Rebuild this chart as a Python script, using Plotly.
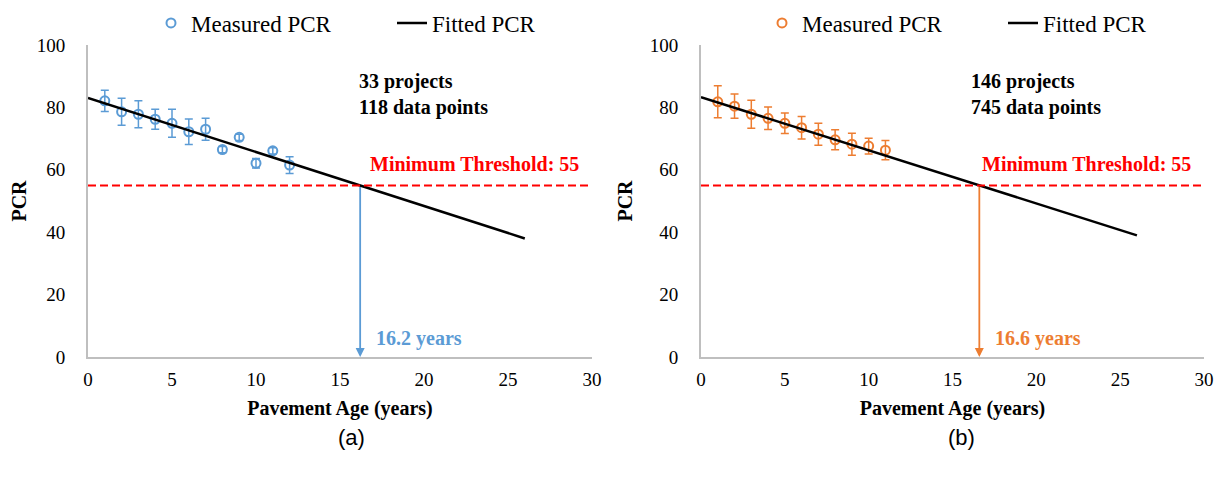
import plotly.graph_objects as go

# ---- data ----
age_a = [1, 2, 3, 4, 5, 6, 7, 8, 9, 10, 11, 12]
pcr_a = [82.1, 78.6, 77.8, 76.2, 74.9, 72.2, 73.0, 66.5, 70.4, 62.1, 66.1, 61.5]
err_a = [3.4, 4.3, 4.3, 3.2, 4.5, 4.1, 3.5, 1.0, 1.0, 1.5, 1.0, 2.7]

age_b = [1, 2, 3, 4, 5, 6, 7, 8, 9, 10, 11]
pcr_b = [81.8, 80.4, 77.8, 76.5, 74.9, 73.5, 71.4, 69.6, 68.2, 67.6, 66.3]
err_b = [5.1, 3.9, 4.5, 3.6, 3.3, 3.6, 3.5, 3.2, 3.5, 2.5, 3.1]

fit_age = [0, 26]
fit_a = [83.0, 38.0]
fit_b = [83.3, 39.0]

thr_age = [0, 30]
thr_pcr = [55, 55]
life_a = 16.2
life_b = 16.6

info_a = "33 projects<br>118 data points"
info_b = "146 projects<br>745 data points"

BLUE = "#5B9BD5"
ORANGE = "#ED7D31"
SERIF = "Liberation Serif"

OFF = 8  # default page body margin
W, H = 1222 - 2 * OFF, 482 - 2 * OFF
def px(x):
    return (x - OFF) / W
def py(y):
    return 1 - (y - OFF) / H

fig = go.Figure()

panels = [
    dict(ax="", age=age_a, pcr=pcr_a, err=err_a, fit=fit_a, life=life_a, info=info_a,
         color=BLUE, legend="legend", xd=[px(88), px(592)], label="(a)", lx=px(351), lgx=px(151)),
    dict(ax="2", age=age_b, pcr=pcr_b, err=err_b, fit=fit_b, life=life_b, info=info_b,
         color=ORANGE, legend="legend2", xd=[px(701), px(1204)], label="(b)", lx=px(962), lgx=px(762)),
]

ydom = [py(357), py(45)]
annotations = []
for p in panels:
    xa = "x" + p["ax"]
    ya = "y" + p["ax"]
    fig.add_trace(go.Scatter(
        x=p["age"], y=p["pcr"], mode="markers", name="Measured PCR",
        marker=dict(symbol="circle-open", size=9, color=p["color"], line=dict(width=2)),
        error_y=dict(type="data", array=p["err"], color=p["color"], thickness=1.5, width=4),
        xaxis=xa, yaxis=ya, legend=p["legend"]))
    fig.add_trace(go.Scatter(
        x=fit_age, y=p["fit"], mode="lines", name="Fitted PCR",
        line=dict(color="black", width=2.5),
        xaxis=xa, yaxis=ya, legend=p["legend"]))
    fig.add_trace(go.Scatter(
        x=thr_age, y=thr_pcr, mode="lines", showlegend=False,
        line=dict(color="#FF0000", width=2, dash="8px,4px"),
        xaxis=xa, yaxis=ya))
    annotations += [
        dict(x=p["life"], y=0, ax=p["life"], ay=55, xref=xa, yref=ya, axref=xa, ayref=ya,
             showarrow=True, arrowhead=2, arrowsize=1, arrowwidth=1.8, arrowcolor=p["color"], text=""),
        dict(x=16.0, y=84.0, xref=xa, yref=ya, text=p["info"], showarrow=False, xanchor="left",
             yanchor="middle", align="left",
             font=dict(family=SERIF, size=20, color="black", weight="bold")),
        dict(x=23.0, y=62.0, xref=xa, yref=ya, text="Minimum Threshold: 55", showarrow=False,
             yanchor="middle", font=dict(family=SERIF, size=20, color="#FF0000", weight="bold")),
        dict(x=p["life"] + 0.8, y=6.0, xref=xa, yref=ya, text=f"{p['life']} years", showarrow=False,
             xanchor="left", yanchor="middle",
             font=dict(family=SERIF, size=20, color=p["color"], weight="bold")),
        dict(x=p["lx"], y=py(437), xref="paper", yref="paper", text=p["label"], showarrow=False,
             xanchor="center", yanchor="middle",
             font=dict(family="Liberation Sans", size=22, color="black")),
    ]

axis_common = dict(showgrid=False, zeroline=False, showline=True, linecolor="#BFBFBF",
                   linewidth=2, ticks="", tickfont=dict(family=SERIF, size=19, color="black"),
                   automargin=False)

def legend_cfg(x):
    return dict(orientation="h", x=x, y=py(23), xanchor="left", yanchor="middle",
                font=dict(family=SERIF, size=23, color="black"), entrywidth=196,
                bgcolor="rgba(0,0,0,0)")

layout = dict(
    width=W, height=H, margin=dict(l=0, r=0, t=0, b=0, autoexpand=False),
    paper_bgcolor="white", plot_bgcolor="white",
    annotations=annotations,
    legend=legend_cfg(panels[0]["lgx"]),
    legend2=legend_cfg(panels[1]["lgx"]),
)
for p in panels:
    layout["xaxis" + p["ax"]] = dict(axis_common, domain=p["xd"], range=[0, 30], dtick=5,
                                      anchor="y" + p["ax"], ticklabelstandoff=4,
                                      title=dict(text="<b>Pavement Age (years)</b>", standoff=12,
                                                 font=dict(family=SERIF, size=20, color="black")))
    layout["yaxis" + p["ax"]] = dict(axis_common, domain=ydom, range=[0, 100], dtick=20,
                                      anchor="x" + p["ax"], ticklabelstandoff=17,
                                      title=dict(text="<b>PCR</b>", standoff=12,
                                                 font=dict(family=SERIF, size=20, color="black")))

fig.update_layout(**layout)
fig.write_html("out.html", config={"displayModeBar": False})
